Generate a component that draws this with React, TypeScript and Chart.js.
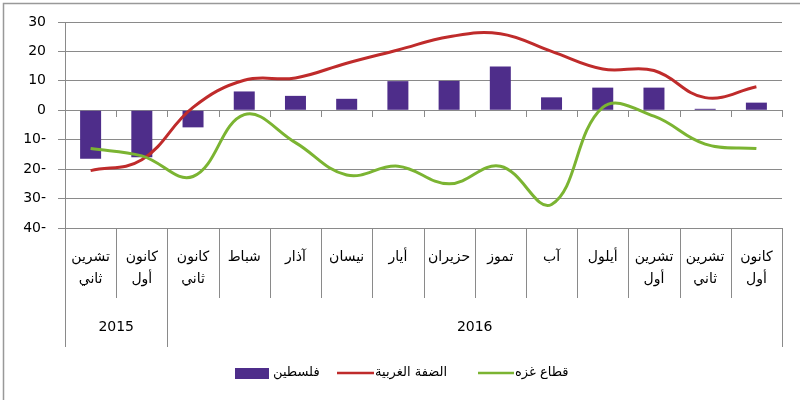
import { useEffect, useRef } from "react";
import { Chart, registerables } from "chart.js";

Chart.register(...registerables);

const months: (string | string[])[] = [
  ["تشرين", "ثاني"],
  ["كانون", "أول"],
  ["كانون", "ثاني"],
  "شباط",
  "آذار",
  "نيسان",
  "أيار",
  "حزيران",
  "تموز",
  "آب",
  "أيلول",
  ["تشرين", "أول"],
  ["تشرين", "ثاني"],
  ["كانون", "أول"],
];

const yearLabels = ["2015", "2016"];
const yearStarts = [0, 2];
const yearEnds = [1, 13];

const palestine = [-16.5, -16, -5.8, 6.4, 4.9, 3.9, 9.9, 10, 14.9, 4.4, 7.7, 7.7, 0.5, 2.6];
const westBank = [-20.5, -16.8, 1, 10.2, 11, 16, 20.5, 25, 26, 20, 14, 13.5, 4.3, 8];
const gaza = [-13, -15.5, -22.5, -1.5, -11, -22, -19, -25, -19, -32, 1, -2, -11.5, -13];

const seriesNames = ["فلسطين", "الضفة الغربية", "قطاع غزه"];

const PURPLE = "#4e2d8a";
const RED = "#bf2b2b";
const GREEN = "#7bb432";
const GRID = "#8a8a8a";
const FONT = "DejaVu Sans";

const decorPlugin = {
  id: "decor",
  afterDraw(chart: any) {
    const ctx = chart.ctx;
    const area = chart.chartArea;
    const xs = chart.scales.x;
    const ys = chart.scales.y;
    const n = months.length;
    const step = (area.right - area.left) / n;
    const y0 = ys.getPixelForValue(0);
    ctx.save();
    ctx.strokeStyle = GRID;
    ctx.lineWidth = 1;
    const yearBoundaries = new Set<number>([0, ...yearStarts, n]);
    for (let i = 0; i <= n; i++) {
      const x = Math.round(area.left + i * step) + 0.5;
      const bottom = yearBoundaries.has(i) ? 347 : 298;
      ctx.beginPath();
      ctx.moveTo(x, area.bottom);
      ctx.lineTo(x, bottom);
      ctx.stroke();
      ctx.beginPath();
      ctx.moveTo(x, Math.round(y0));
      ctx.lineTo(x, Math.round(y0) + 7);
      ctx.stroke();
    }
    // year labels
    ctx.fillStyle = "#000";
    ctx.font = `14px ${FONT}`;
    ctx.textAlign = "center";
    ctx.textBaseline = "middle";
    for (let k = 0; k < yearLabels.length; k++) {
      const x0 = xs.getPixelForValue(yearStarts[k]) - step / 2;
      const x1 = xs.getPixelForValue(yearEnds[k]) + step / 2;
      ctx.fillText(yearLabels[k], (x0 + x1) / 2, 327);
    }
    // legend
    const ly = 373;
    ctx.font = `13px ${FONT}`;
    ctx.textAlign = "left";
    ctx.fillStyle = PURPLE;
    ctx.fillRect(235, 368, 34, 11);
    ctx.fillStyle = "#000";
    ctx.fillText(seriesNames[0], 273, ly);
    ctx.lineWidth = 2.5;
    ctx.strokeStyle = RED;
    ctx.beginPath();
    ctx.moveTo(337, ly);
    ctx.lineTo(374, ly);
    ctx.stroke();
    ctx.fillText(seriesNames[1], 375, ly);
    ctx.strokeStyle = GREEN;
    ctx.beginPath();
    ctx.moveTo(478, ly);
    ctx.lineTo(514, ly);
    ctx.stroke();
    ctx.fillText(seriesNames[2], 515, ly);
    // outer border
    ctx.strokeStyle = "#999";
    ctx.lineWidth = 1.5;
    ctx.beginPath();
    ctx.moveTo(3.5, 400);
    ctx.lineTo(3.5, 3.5);
    ctx.lineTo(800, 3.5);
    ctx.stroke();
    ctx.restore();
  },
};

export default function App() {
  const ref = useRef<HTMLCanvasElement | null>(null);
  useEffect(() => {
    if (!ref.current) return;
    const chart = new Chart(ref.current, {
      type: "bar",
      data: {
        labels: months,
        datasets: [
          {
            type: "line",
            label: seriesNames[2],
            data: gaza,
            borderColor: GREEN,
            backgroundColor: GREEN,
            borderWidth: 3,
            pointRadius: 0,
            tension: 0.4,
            order: 0,
          } as any,
          {
            type: "line",
            label: seriesNames[1],
            data: westBank,
            borderColor: RED,
            backgroundColor: RED,
            borderWidth: 3,
            pointRadius: 0,
            tension: 0.4,
            order: 1,
          } as any,
          {
            type: "bar",
            label: seriesNames[0],
            data: palestine,
            backgroundColor: PURPLE,
            categoryPercentage: 1,
            barPercentage: 0.41,
            order: 2,
          },
        ],
      },
      options: {
        animation: false,
        responsive: false,
        maintainAspectRatio: false,
        layout: { padding: { top: 22, right: 18, left: 0, bottom: 0 } },
        plugins: { legend: { display: false }, tooltip: { enabled: false } },
        scales: {
          x: {
            grid: { display: false },
            border: { display: true, color: GRID },
            ticks: {
              color: "#000",
              font: { family: FONT, size: 14, lineHeight: 1.6 },
              padding: 10,
              maxRotation: 0,
              autoSkip: false,
            },
            afterFit: (s: any) => {
              s.height = 172;
            },
          },
          y: {
            min: -40,
            max: 30,
            ticks: {
              stepSize: 10,
              color: "#000",
              font: { family: FONT, size: 14 },
              padding: 12,
              callback: (v: any) => (Number(v) < 0 ? `${-Number(v)}-` : `${v}`),
            },
            grid: { color: GRID, tickLength: 7 },
            border: { display: true, color: GRID },
            afterFit: (s: any) => {
              s.width = 65;
            },
          },
        },
      },
      plugins: [decorPlugin],
    });
    return () => chart.destroy();
  }, []);
  return (
    <div style={{ position: "absolute", left: 0, top: 0, width: 800, height: 400, background: "#fff" }}>
      <canvas ref={ref} width={800} height={400} style={{ width: 800, height: 400 }} />
    </div>
  );
}
